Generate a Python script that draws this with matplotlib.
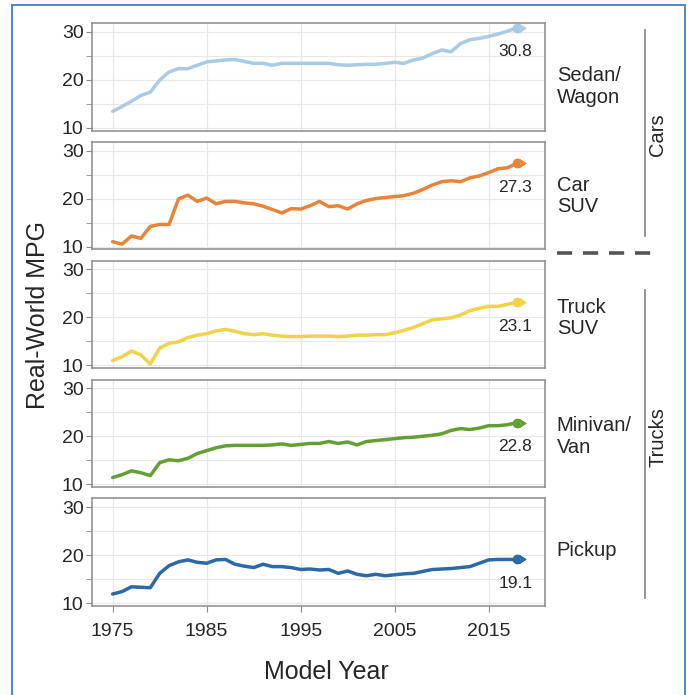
import numpy as np
import matplotlib
matplotlib.use("Agg")
import matplotlib.pyplot as plt
from matplotlib.path import Path
from matplotlib.patches import Rectangle
from matplotlib.lines import Line2D

plt.rcParams['font.family'] = ['Liberation Sans', 'DejaVu Sans']

# data (real-world MPG by model year)
years = list(range(1975, 2019))

sedan_wagon = [13.4, 14.4, 15.5, 16.7, 17.4, 19.9, 21.6, 22.3, 22.3, 23.0,
               23.7, 23.9, 24.1, 24.2, 23.8, 23.4, 23.4, 23.0, 23.4, 23.4,
               23.4, 23.4, 23.4, 23.4, 23.1, 23.0, 23.1, 23.2, 23.2, 23.4,
               23.6, 23.4, 24.1, 24.5, 25.4, 26.2, 25.8, 27.5, 28.3, 28.6,
               29.0, 29.5, 30.1, 30.8]
car_suv = [11.0, 10.5, 12.2, 11.7, 14.2, 14.6, 14.6, 19.9, 20.7, 19.4,
           20.1, 18.9, 19.4, 19.4, 19.1, 18.9, 18.4, 17.7, 17.0, 17.9,
           17.8, 18.5, 19.4, 18.3, 18.5, 17.8, 18.9, 19.6, 20.0, 20.2,
           20.4, 20.6, 21.1, 21.9, 22.8, 23.5, 23.7, 23.5, 24.3, 24.7,
           25.4, 26.2, 26.4, 27.3]
truck_suv = [11.0, 11.8, 13.0, 12.2, 10.3, 13.6, 14.6, 14.9, 15.8, 16.3,
             16.6, 17.2, 17.5, 17.1, 16.6, 16.4, 16.6, 16.3, 16.1, 16.0,
             16.0, 16.1, 16.1, 16.1, 16.0, 16.1, 16.3, 16.3, 16.4, 16.4,
             16.8, 17.3, 17.9, 18.7, 19.5, 19.7, 19.9, 20.5, 21.4, 21.9,
             22.3, 22.3, 22.7, 23.1]
minivan_van = [11.4, 12.0, 12.8, 12.4, 11.8, 14.5, 15.1, 14.9, 15.4, 16.4,
               17.0, 17.6, 18.0, 18.1, 18.1, 18.1, 18.1, 18.2, 18.4, 18.1,
               18.3, 18.5, 18.5, 18.9, 18.5, 18.8, 18.2, 18.9, 19.1, 19.3,
               19.5, 19.7, 19.8, 20.0, 20.2, 20.5, 21.2, 21.6, 21.4, 21.7,
               22.2, 22.2, 22.4, 22.8]
pickup = [11.9, 12.4, 13.4, 13.3, 13.2, 16.2, 17.8, 18.6, 19.0, 18.5,
          18.3, 19.0, 19.1, 18.1, 17.7, 17.4, 18.1, 17.6, 17.6, 17.4,
          17.0, 17.1, 16.9, 17.0, 16.2, 16.7, 16.0, 15.7, 16.0, 15.7,
          15.9, 16.1, 16.2, 16.6, 17.0, 17.1, 17.2, 17.4, 17.6, 18.3,
          19.0, 19.1, 19.1, 19.1]

series = [sedan_wagon, car_suv, truck_suv, minivan_van, pickup]
names = ["Sedan/\nWagon", "Car\nSUV", "Truck\nSUV", "Minivan/\nVan", "Pickup"]
colors = ["#a9cbe3", "#e8843a", "#f1d24a", "#62a033", "#2b6aa6"]
name_y = [0.41, 0.50, 0.47, 0.47, 0.52]

x_ticks = [1975, 1985, 1995, 2005, 2015]

# circle with a small arrow head on the right, like the end markers
circle = Path.unit_circle()
tri = Path([(0.6, 0.85), (2.0, 0.0), (0.6, -0.85), (0.6, 0.85)],
           [Path.MOVETO, Path.LINETO, Path.LINETO, Path.CLOSEPOLY])
end_marker = Path.make_compound_path(circle, tri)

fig, axes = plt.subplots(5, 1, sharex=True, figsize=(6.9, 6.95), dpi=100)
fig.subplots_adjust(left=92/690, right=545/690, top=1-23/695, bottom=1-606/695,
                    hspace=0.105)

text_color = "#262626"
spine_color = "#8a8a8a"

for i, ax in enumerate(axes):
    vals = series[i]
    ax.plot(years, vals, color=colors[i], lw=2.5, solid_capstyle='round', zorder=3)
    ax.plot(years[-1], vals[-1], marker=end_marker, ms=12, color=colors[i],
            mec=colors[i], zorder=4)
    ax.annotate(f"{vals[-1]:.1f}", (years[-1], vals[-1]), xytext=(-1, -17),
                textcoords='offset points', ha='center', va='center',
                fontsize=12.5, color=text_color)

    ax.set_xlim(1972.8, 2021)
    ax.set_ylim(9.4, 31.8)
    ax.set_yticks([10, 20, 30])
    ax.set_yticks([15, 25], minor=True)
    ax.set_xticks(x_ticks)
    ax.grid(True, which='both', axis='y', color='#e8e8e8', lw=0.9)
    ax.grid(True, which='major', axis='x', color='#e8e8e8', lw=0.9)
    ax.set_axisbelow(True)

    for sp in ax.spines.values():
        sp.set_color(spine_color)
        sp.set_linewidth(1.1)

    ax.tick_params(axis='y', which='both', length=4, color=spine_color,
                   labelsize=14, labelcolor=text_color, pad=2)
    if i < 4:
        ax.tick_params(axis='x', length=0)
    else:
        ax.tick_params(axis='x', length=4, color=spine_color, labelsize=14,
                       labelcolor=text_color, pad=8)

    ax.text(1.026, name_y[i], names[i], transform=ax.transAxes, ha='left',
            va='center', fontsize=14.5, color=text_color, linespacing=1.15)

fig.text(38/690, 1-315/695, "Real-World MPG", rotation=90, ha='center',
         va='center', fontsize=18, color=text_color)
fig.text(326/690, 1-672/695, "Model Year", ha='center', va='center',
         fontsize=18, color=text_color)

# group brackets on the right
gx = 645/690
fig.add_artist(Line2D([gx, gx], [1-30/695, 1-236/695], color='#8c8c8c', lw=1.3))
fig.add_artist(Line2D([gx, gx], [1-290/695, 1-598/695], color='#8c8c8c', lw=1.3))
fig.add_artist(Line2D([557/690, 654/690], [1-253/695, 1-253/695], color='#555555',
                      lw=2.6, linestyle=(0, (4.2, 3.0))))
fig.text(658/690, 1-135/695, "Cars", rotation=90, ha='center', va='center',
         fontsize=14.5, color=text_color)
fig.text(658/690, 1-437/695, "Trucks", rotation=90, ha='center', va='center',
         fontsize=14.5, color=text_color)

# blue frame around the figure
fig.add_artist(Rectangle((12/690, -0.02), (685-12)/690, 1-5/695+0.02,
                         transform=fig.transFigure, fill=False,
                         edgecolor='#5585c5', lw=1.4))

fig.savefig("out.png", dpi=100, facecolor='white')
